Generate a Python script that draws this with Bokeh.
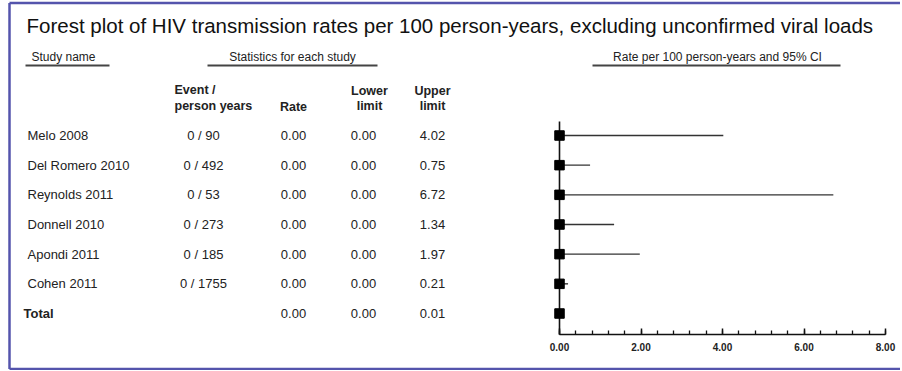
from bokeh.plotting import figure
from bokeh.models import (Range1d, LinearAxis, FixedTicker, PrintfTickFormatter,
                          ColumnDataSource)
from bokeh.core.properties import value
from bokeh.embed import file_html
from bokeh.resources import INLINE

# ---- data ----
studies = ["Melo 2008", "Del Romero 2010", "Reynolds 2011", "Donnell 2010",
           "Apondi 2011", "Cohen 2011", "Total"]
events = [0, 0, 0, 0, 0, 0, None]
person_years = [90, 492, 53, 273, 185, 1755, None]
rate = [0.00, 0.00, 0.00, 0.00, 0.00, 0.00, 0.00]
lower = [0.00, 0.00, 0.00, 0.00, 0.00, 0.00, 0.00]
upper = [4.02, 0.75, 6.72, 1.34, 1.97, 0.21, 0.01]
major_ticks = [0, 2, 4, 6, 8]
minor_step = 0.4

title = "Forest plot of HIV transmission rates per 100 person-years, excluding unconfirmed viral loads"

# ---- layout helpers (canvas pixel -> data) ----
W, H = 900, 370
X0_PX, X_PER = 559.0, 40.75          # px of x=0, px per unit
ROW0_PX, ROW_PX = 135.0, 29.667       # px of first row, px per row
AXIS_PX = 334.0

def dx(px):
    return (px - X0_PX) / X_PER

def dy(py):
    # rows go downward: row k sits at y = -k
    return -(py - ROW0_PX) / ROW_PX

p = figure(width=W, height=H, output_backend="svg", toolbar_location=None,
           x_range=Range1d(dx(0), dx(W)),
           y_range=Range1d(dy(H), dy(0)),
           x_axis_type=None, y_axis_type=None,
           min_border_left=0, min_border_right=0, min_border_top=0, min_border_bottom=0)
p.outline_line_color = None
p.background_fill_color = "white"
p.border_fill_color = "white"

BORDER = "#5454ac"
# outer frame (left, top, bottom edges)
p.segment(x0=[dx(9), dx(9), dx(9)], y0=[dy(2.5), dy(2.5), dy(368.5)],
          x1=[dx(9), dx(W + 20), dx(W + 20)], y1=[dy(368.5), dy(2.5), dy(368.5)],
          line_color=BORDER, line_width=2.5)

n = len(studies)
rows = [-k for k in range(n)]
ev_txt = [f"{e} / {py}" if py is not None else "" for e, py in zip(events, person_years)]
src = ColumnDataSource(dict(
    row=rows, study=studies, ev=ev_txt,
    rate=rate, lower=lower, upper=upper,
    rate_s=[f"{v:.2f}" for v in rate],
    lower_s=[f"{v:.2f}" for v in lower],
    upper_s=[f"{v:.2f}" for v in upper],
    name_style=["normal"] * (n - 1) + ["bold"],
    name_x=[dx(27)] * (n - 1) + [dx(23)],
    ev_x=[dx(203)] * n, rate_x=[dx(293)] * n, lower_x=[dx(363)] * n, upper_x=[dx(432)] * n,
))

FONT = value("Liberation Sans")
TXT = "#222222"

# title
p.text(x=[dx(26)], y=[dy(25)], text=[title], text_font=FONT, text_font_size="20.5px",
       text_color="#111111", text_baseline="middle", text_align="left")

# group headers with underlines
hdr_y = dy(56)
ul_y = dy(65)
p.text(x=[dx(31), dx(292), dx(717)], y=[hdr_y] * 3,
       text=["Study name", "Statistics for each study", "Rate per 100 person-years and 95% CI"],
       text_align=["left", "center", "center"], text_baseline="middle",
       text_font=FONT, text_font_size="12px", text_color=TXT)
p.segment(x0=[dx(25), dx(207), dx(592)], y0=[ul_y] * 3,
          x1=[dx(109), dx(377), dx(840)], y1=[ul_y] * 3,
          line_color="#444444", line_width=2)

# column headers (bold)
p.text(x=[dx(174), dx(174), dx(293), dx(369), dx(369), dx(432), dx(432)],
       y=[dy(89), dy(105), dy(106), dy(90), dy(105), dy(90), dy(105)],
       text=["Event /", "person years", "Rate", "Lower", "limit", "Upper", "limit"],
       text_align=["left", "left", "center", "center", "center", "center", "center"],
       text_baseline="middle", text_font=FONT, text_font_size="12.5px",
       text_font_style="bold", text_color=TXT)

# table body
p.text(x="name_x", y="row", text="study", source=src, text_font=FONT,
       text_font_size="13px", text_font_style="name_style", text_color=TXT,
       text_baseline="middle", text_align="left")
for col_x, col_t in [("ev_x", "ev"), ("rate_x", "rate_s"), ("lower_x", "lower_s"), ("upper_x", "upper_s")]:
    p.text(x=col_x, y="row", text=col_t, source=src, text_font=FONT,
           text_font_size="13px", text_color=TXT, text_baseline="middle", text_align="center")

# reference line at 0
p.segment(x0=[0], y0=[dy(121)], x1=[0], y1=[dy(AXIS_PX)], line_color="#111111", line_width=1.6)

# CIs and point estimates
p.segment(x0="lower", y0="row", x1="upper", y1="row", source=src,
          line_color="#333333", line_width=1.4)
p.scatter(x="rate", y="row", source=src, marker="square", size=9.5,
          fill_color="#000000", line_color="#000000")

# axis, pinned at its place inside the plot area
ax = LinearAxis(bounds=(0, 8), fixed_location=dy(AXIS_PX))
ax.ticker = FixedTicker(ticks=major_ticks,
                        minor_ticks=[round(i * minor_step, 2) for i in range(int(8 / minor_step) + 1)])
ax.formatter = PrintfTickFormatter(format="%.2f")
ax.axis_line_color = "#111111"
ax.axis_line_width = 1.6
ax.major_tick_in = 6
ax.major_tick_out = 0
ax.minor_tick_in = 4
ax.minor_tick_out = 0
ax.major_tick_line_color = "#111111"
ax.major_tick_line_width = 1.5
ax.minor_tick_line_color = "#111111"
ax.minor_tick_line_width = 1.3
ax.major_label_standoff = 8
ax.major_label_text_font = "Liberation Sans"
ax.major_label_text_font_size = "10px"
ax.major_label_text_font_style = "bold"
ax.major_label_text_color = "#222222"
p.add_layout(ax, "below")

open("out.html", "w").write(file_html(p, INLINE))
